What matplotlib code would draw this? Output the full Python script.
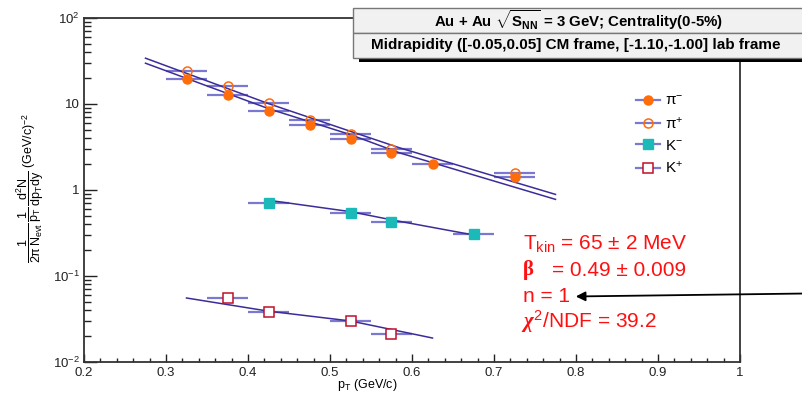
import matplotlib
matplotlib.use("Agg")
import matplotlib.pyplot as plt
from matplotlib.patches import Rectangle
from matplotlib.lines import Line2D
from matplotlib.ticker import FixedLocator, FuncFormatter, LogLocator, NullFormatter

plt.rcParams["font.family"] = ["Liberation Sans", "DejaVu Sans"]
plt.rcParams["mathtext.fontset"] = "custom"
plt.rcParams["mathtext.rm"] = "Liberation Sans"
plt.rcParams["mathtext.bf"] = "Liberation Sans:bold"
plt.rcParams["mathtext.it"] = "Liberation Serif:italic:bold"

# spectra points (pT bin centres, yields)
pim_pt = [0.325, 0.375, 0.425, 0.475, 0.525, 0.575, 0.625, 0.725]
pim_y = [19.5, 12.8, 8.4, 5.75, 3.93, 2.70, 1.98, 1.43]
pip_pt = [0.325, 0.375, 0.425, 0.475, 0.525, 0.575, 0.725]
pip_y = [24.5, 16.0, 10.3, 6.6, 4.5, 3.03, 1.58]
km_pt = [0.425, 0.525, 0.575, 0.675]
km_y = [0.70, 0.546, 0.43, 0.31]
kp_pt = [0.375, 0.425, 0.525, 0.575]
kp_y = [0.055, 0.0385, 0.030, 0.0212]
pt_halfbin = 0.025

# blast-wave fit curves
fit_pip_x = [0.275, 0.425, 0.525, 0.585, 0.775]
fit_pip_y = [34.1, 10.1, 4.81, 3.09, 0.889]
fit_pim_x = [0.275, 0.425, 0.525, 0.585, 0.775]
fit_pim_y = [29.8, 8.83, 4.40, 2.70, 0.778]
fit_km_x = [0.425, 0.525, 0.575, 0.675]
fit_km_y = [0.76, 0.56, 0.45, 0.30]
fit_kp_x = [0.325, 0.425, 0.525, 0.625]
fit_kp_y = [0.0555, 0.039, 0.030, 0.019]

bar_col = "#7a78d0"
fit_col = "#3b2c9a"
orange = "#ff6c0a"
cyan = "#1cb9b9"
darkred = "#c0102a"

fig = plt.figure(figsize=(8.02, 3.95), dpi=100)
ax = fig.add_axes([84 / 802, 1 - 362 / 395, 656 / 802, 344 / 395])

def draw_set(x, y, **mk):
    ax.errorbar(x, y, xerr=pt_halfbin, fmt="none", ecolor=bar_col, elinewidth=1.6, capsize=0, zorder=2)
    ax.plot(x, y, linestyle="none", zorder=4, **mk)

for fx_, fy_ in [(fit_pip_x, fit_pip_y), (fit_pim_x, fit_pim_y), (fit_km_x, fit_km_y), (fit_kp_x, fit_kp_y)]:
    ax.plot(fx_, fy_, color=fit_col, lw=1.1, zorder=3)

pip_style = dict(marker="o", ms=6.5, mfc="none", mec=orange, mew=1.1)
pim_style = dict(marker="o", ms=6.5, mfc=orange, mec=orange)
km_style = dict(marker="s", ms=6.5, mfc=cyan, mec=cyan)
kp_style = dict(marker="s", ms=7, mfc="white", mec=darkred, mew=1.1)

draw_set(pip_pt, pip_y, **pip_style)
draw_set(pim_pt, pim_y, **pim_style)
draw_set(km_pt, km_y, **km_style)
draw_set(kp_pt, kp_y, **kp_style)

ax.set_xlim(0.2, 1.0)
ax.set_yscale("log")
ax.set_ylim(0.01, 100)

ax.xaxis.set_major_locator(FixedLocator([0.2, 0.3, 0.4, 0.5, 0.6, 0.7, 0.8, 0.9, 1.0]))
ax.xaxis.set_minor_locator(FixedLocator([0.2 + 0.02 * i for i in range(41)]))
ax.xaxis.set_major_formatter(FuncFormatter(lambda v, p: f"{v:g}"))

ylabels = {100: r"$\mathrm{10^{2}}$", 10: "10", 1: "1", 0.1: r"$\mathrm{10^{-1}}$", 0.01: r"$\mathrm{10^{-2}}$"}
ax.yaxis.set_major_locator(FixedLocator([0.01, 0.1, 1, 10, 100]))
ax.yaxis.set_minor_locator(LogLocator(base=10, subs=range(2, 10)))
ax.yaxis.set_minor_formatter(NullFormatter())
ax.yaxis.set_major_formatter(FuncFormatter(lambda v, p: ylabels.get(round(v, 4), "")))

ax.tick_params(which="both", direction="in", top=False, right=False, colors="#222222",
               labelsize=9.5, width=1.0)
ax.tick_params(axis="y", which="major", length=9, pad=3)
ax.tick_params(axis="y", which="minor", length=5)
ax.tick_params(axis="x", which="major", length=6, pad=3.5)
ax.tick_params(axis="x", which="minor", length=3)
for sp in ax.spines.values():
    sp.set_linewidth(1.3)
    sp.set_color("#333333")

ax.set_xlabel(r"$\mathrm{p_{T}}$ (GeV/c)", fontsize=9)
ax.xaxis.set_label_coords((367 - 84) / 656, (362 - 385) / 344)
ax.xaxis.label.set_va("center")
ax.set_ylabel(r"$\dfrac{\mathrm{1}}{\mathrm{2\pi\,N_{evt}}}\,\dfrac{\mathrm{1}}{\mathrm{p_{T}}}\,"
              r"\dfrac{\mathrm{d^{2}N}}{\mathrm{dp_{T}dy}}$ (GeV/c)$^{\mathrm{-2}}$", fontsize=9)
ax.yaxis.set_label_coords((30 - 84) / 656, 0.507)
ax.yaxis.label.set_va("center")

# legend
handles = [
    Line2D([], [], color=bar_col, lw=1.6, **pim_style),
    Line2D([], [], color=bar_col, lw=1.6, **pip_style),
    Line2D([], [], color=bar_col, lw=1.6, **km_style),
    Line2D([], [], color=bar_col, lw=1.6, **kp_style),
]
labels = [r"$\mathrm{\pi^{-}}$", r"$\mathrm{\pi^{+}}$", r"$\mathrm{K^{-}}$", r"$\mathrm{K^{+}}$"]
ax.legend(handles, labels, loc="upper left", bbox_to_anchor=(636 / 802, 1 - 94 / 395),
          bbox_transform=fig.transFigure, frameon=False, fontsize=11, handlelength=1.6,
          handletextpad=0.3, labelspacing=0.48, borderpad=0, borderaxespad=0)

# header boxes
W, H = 802, 395
def fx(px):
    return px / W
def fy(py):
    return 1 - py / H

fig.patches.append(Rectangle((fx(359), fy(62)), fx(460), 4 / H, transform=fig.transFigure,
                             facecolor="black", edgecolor="none", zorder=10))
for top in (8, 33):
    fig.patches.append(Rectangle((fx(353), fy(top + 25)), fx(460), 25 / H, transform=fig.transFigure,
                                 facecolor="#f1f1f1", edgecolor="#777777", lw=1.0, zorder=11))
fig.text(fx(579), fy(20.5), r"Au + Au $\mathbf{\sqrt{S_{NN}}}$ = 3 GeV; Centrality(0-5%)",
         ha="center", va="center", fontsize=10.8, fontweight="bold", zorder=12)
fig.text(fx(576), fy(45.5), "Midrapidity ([-0.05,0.05] CM frame, [-1.10,-1.00] lab frame",
         ha="center", va="center", fontsize=11, fontweight="bold", zorder=12)

# fit parameters
red = "#ff1010"
fig.text(fx(523), fy(244), r"T$_{\mathrm{kin}}$ = 65 ± 2 MeV", color=red, fontsize=15, va="center")
fig.text(fx(523), fy(270), "β", color=red, fontsize=15, va="center", family="Liberation Serif",
         fontweight="bold")
fig.text(fx(552), fy(270), "= 0.49 ± 0.009", color=red, fontsize=15, va="center")
fig.text(fx(523), fy(297), "n = 1", color=red, fontsize=15, va="center")
fig.text(fx(521), fy(322), r"$\chi^{\mathrm{2}}$/NDF = 39.2", color=red, fontsize=15, va="center")

ax.annotate("", xy=(fx(573), fy(296.5)), xycoords="figure fraction",
            xytext=(fx(806), fy(293.5)), textcoords="figure fraction",
            arrowprops=dict(arrowstyle="-|>", color="black", lw=1.3, mutation_scale=14),
            annotation_clip=False)

fig.savefig("out.png", dpi=100)
